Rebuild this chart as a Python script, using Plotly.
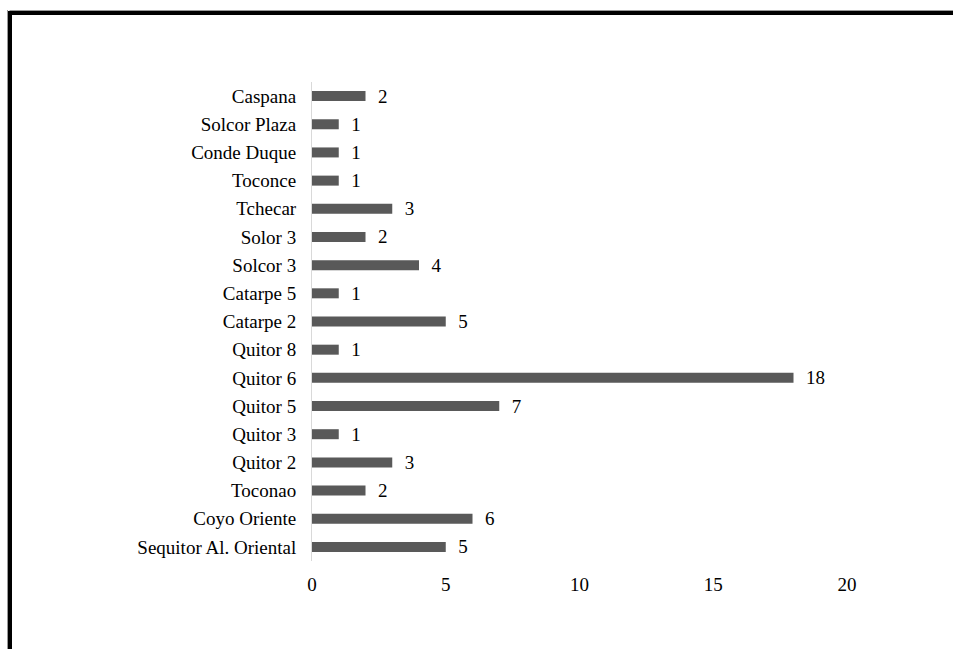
import plotly.graph_objects as go

# Sites, listed bottom to top
sites = [
    "Sequitor Al. Oriental", "Coyo Oriente", "Toconao", "Quitor 2", "Quitor 3",
    "Quitor 5", "Quitor 6", "Quitor 8", "Catarpe 2", "Catarpe 5", "Solcor 3",
    "Solor 3", "Tchecar", "Toconce", "Conde Duque", "Solcor Plaza", "Caspana",
]
counts = [5, 6, 2, 3, 1, 7, 18, 1, 5, 1, 4, 2, 3, 1, 1, 1, 2]
x_ticks = [0, 5, 10, 15, 20]

W, H = 953, 649
L, R, T, B = 312, 106, 82, 88
pw, ph = W - L - R, H - T - B

FONT = "Liberation Serif, Times New Roman, serif"
FS = 19

fig = go.Figure(go.Bar(
    y=sites, x=counts, orientation="h",
    marker=dict(color="#595959", line=dict(width=0)),
    width=0.355,
    text=[f"  {c}" for c in counts],
    textposition="outside", cliponaxis=False, constraintext="none",
    textfont=dict(family=FONT, size=FS, color="#000000"),
))

def px_x(p):
    return (p - L) / pw

def px_y(p):
    return (H - B - p) / ph

# Frame on the top and left edges
shapes = [
    dict(type="line", xref="paper", yref="paper", x0=px_x(9.5), x1=px_x(W + 5),
         y0=px_y(10.5), y1=px_y(10.5), line=dict(color="#9a9a9a", width=1)),
    dict(type="line", xref="paper", yref="paper", x0=px_x(7.5), x1=px_x(7.5),
         y0=px_y(10), y1=px_y(H + 5), line=dict(color="#9a9a9a", width=1)),
    dict(type="line", xref="paper", yref="paper", x0=px_x(8), x1=px_x(W + 5),
         y0=px_y(13), y1=px_y(13), line=dict(color="#000000", width=4)),
    dict(type="line", xref="paper", yref="paper", x0=px_x(10), x1=px_x(10),
         y0=px_y(11), y1=px_y(H + 5), line=dict(color="#000000", width=4)),
]

fig.update_layout(
    width=W, height=H,
    margin=dict(l=L, r=R, t=T, b=B, pad=0),
    paper_bgcolor="white", plot_bgcolor="white",
    showlegend=False,
    font=dict(family=FONT, size=FS, color="#000000"),
    shapes=shapes,
    xaxis=dict(
        range=[0, 20], tickvals=x_ticks, ticktext=[str(v) for v in x_ticks],
        showgrid=False, zeroline=False, showline=False, ticks="",
        ticklabelstandoff=10,
        tickfont=dict(family=FONT, size=FS, color="#000000"),
    ),
    yaxis=dict(
        type="category", categoryorder="array", categoryarray=sites,
        range=[-0.5, len(sites) - 0.5],
        showgrid=False, zeroline=False, showline=True,
        linecolor="#d9d9d9", linewidth=1, ticks="",
        ticklabelstandoff=11,
        tickfont=dict(family=FONT, size=FS, color="#000000"),
    ),
)

fig.write_html("out.html")
